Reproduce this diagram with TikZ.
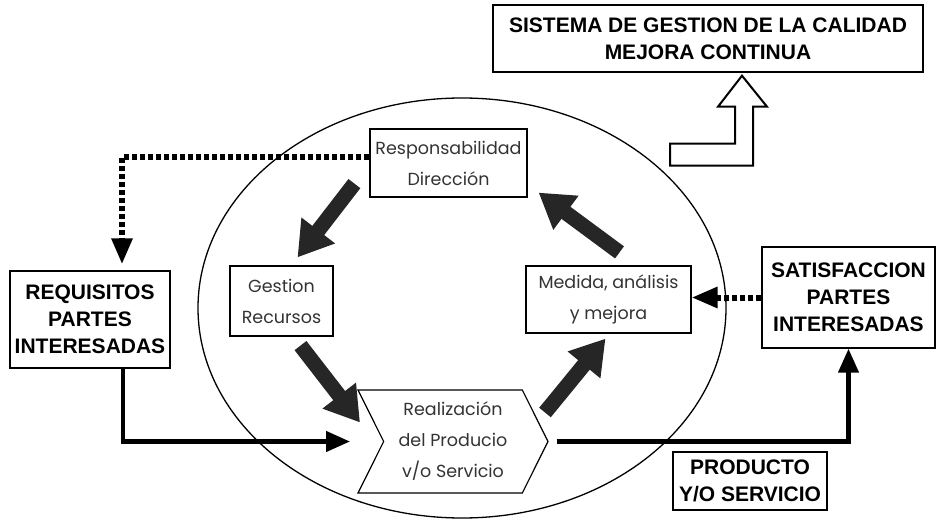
\documentclass[tikz,border=0pt]{standalone}
\usepackage{fontspec}
\setmainfont{Liberation Sans}
\newfontfamily\gothicfont{Poppins}
\usetikzlibrary{arrows.meta,shapes.symbols,calc}

\begin{document}
\begin{tikzpicture}[x=1pt, y=-1pt,
       outerbox/.style={rectangle, draw=black, line width=1.4pt, align=center, inner sep=0pt, font=\fontsize{21}{27}\selectfont\bfseries},
       innerbox/.style={rectangle, draw=black, line width=1.2pt, align=center, inner sep=0pt, text=black!80, font=\gothicfont\fontsize{17.5}{31}\selectfont},
       chevron/.style={signal, signal from=west, signal to=east, signal pointer angle=127, draw=black, line width=1.2pt, align=center, inner sep=0pt, text=black!80, font=\gothicfont\fontsize{17.5}{31}\selectfont},
       fat/.style={line width=15pt, black!85, -{Triangle[length=34pt,width=40pt]}},
       flow/.style={line width=4.5pt, -{Triangle[length=24pt,width=20pt]}},
       dots/.style={line width=6pt, dash pattern=on 5pt off 3pt, -{Triangle[length=26pt,width=20pt]}}
   ]
   \useasboundingbox (0,0) rectangle (938,524);

   % ciclo
   \draw[line width=1.3pt] (462,308) ellipse [x radius=264, y radius=210];

   \node[outerbox, minimum width=430pt, minimum height=67pt] (sgc) at (708,38.5) {SISTEMA DE GESTION DE LA CALIDAD\\MEJORA CONTINUA};
   \node[innerbox, minimum width=157pt, minimum height=68pt] (resp) at (448.5,163) {Responsabilidad\\Dirección};
   \node[innerbox, minimum width=103pt, minimum height=70pt] (gest) at (281.5,301) {Gestion\\Recursos};
   \node[innerbox, minimum width=165pt, minimum height=67pt] (med) at (608.5,299.5) {Medida, análisis\\y mejora};
   \node[chevron, minimum width=190pt, minimum height=103pt] (real) at (453,441.5) {Realización\\del Producio\\v/o Servicio};
   \node[outerbox, minimum width=160pt, minimum height=97pt] (req) at (90,319.5) {REQUISITOS\\PARTES\\INTERESADAS};
   \node[outerbox, minimum width=173pt, minimum height=101pt] (sat) at (848.5,297.5) {SATISFACCION\\PARTES\\INTERESADAS};
   \node[outerbox, minimum width=154pt, minimum height=58pt] (prod) at (750,481) {PRODUCTO\\Y/O SERVICIO};

   % flechas del ciclo
   \draw[fat] ($(resp.south west)+(-15,-14)$) -- ($(gest.north)+(16,-8)$);
   \draw[fat] ($(gest.south)+(19,9)$) -- ($(real.center)+(-93,-19)$);
   \draw[fat] ($(real.center)+(92,-29)$) -- ($(med.south)+(-3,5)$);
   \draw[fat] ($(med.north)+(11,-13)$) -- ($(resp.south east)+(11,-5)$);

   % entradas y salidas
   \draw[dots, shorten >=6pt] ([yshift=6pt]resp.west) -| ([xshift=32pt]req.north);
   \draw[dots] (sat.west) -- (sat.west -| med.east);
   \draw[flow] ([xshift=33pt]req.south) |- ([xshift=-33pt]real.west);
   \draw[flow, shorten <=8pt] (real.east) -| (sat.south);

   % mejora continua
   \coordinate (up) at ([xshift=34pt,yshift=-3pt]sgc.south);
   \draw[line width=2pt, shift={(up)}] (0,0) -- (25,31) -- (11,31) -- (11,90) -- (-72,90) -- (-72,68) -- (-7,68) -- (-7,31) -- (-24,31) -- cycle;
\end{tikzpicture}
\end{document}
